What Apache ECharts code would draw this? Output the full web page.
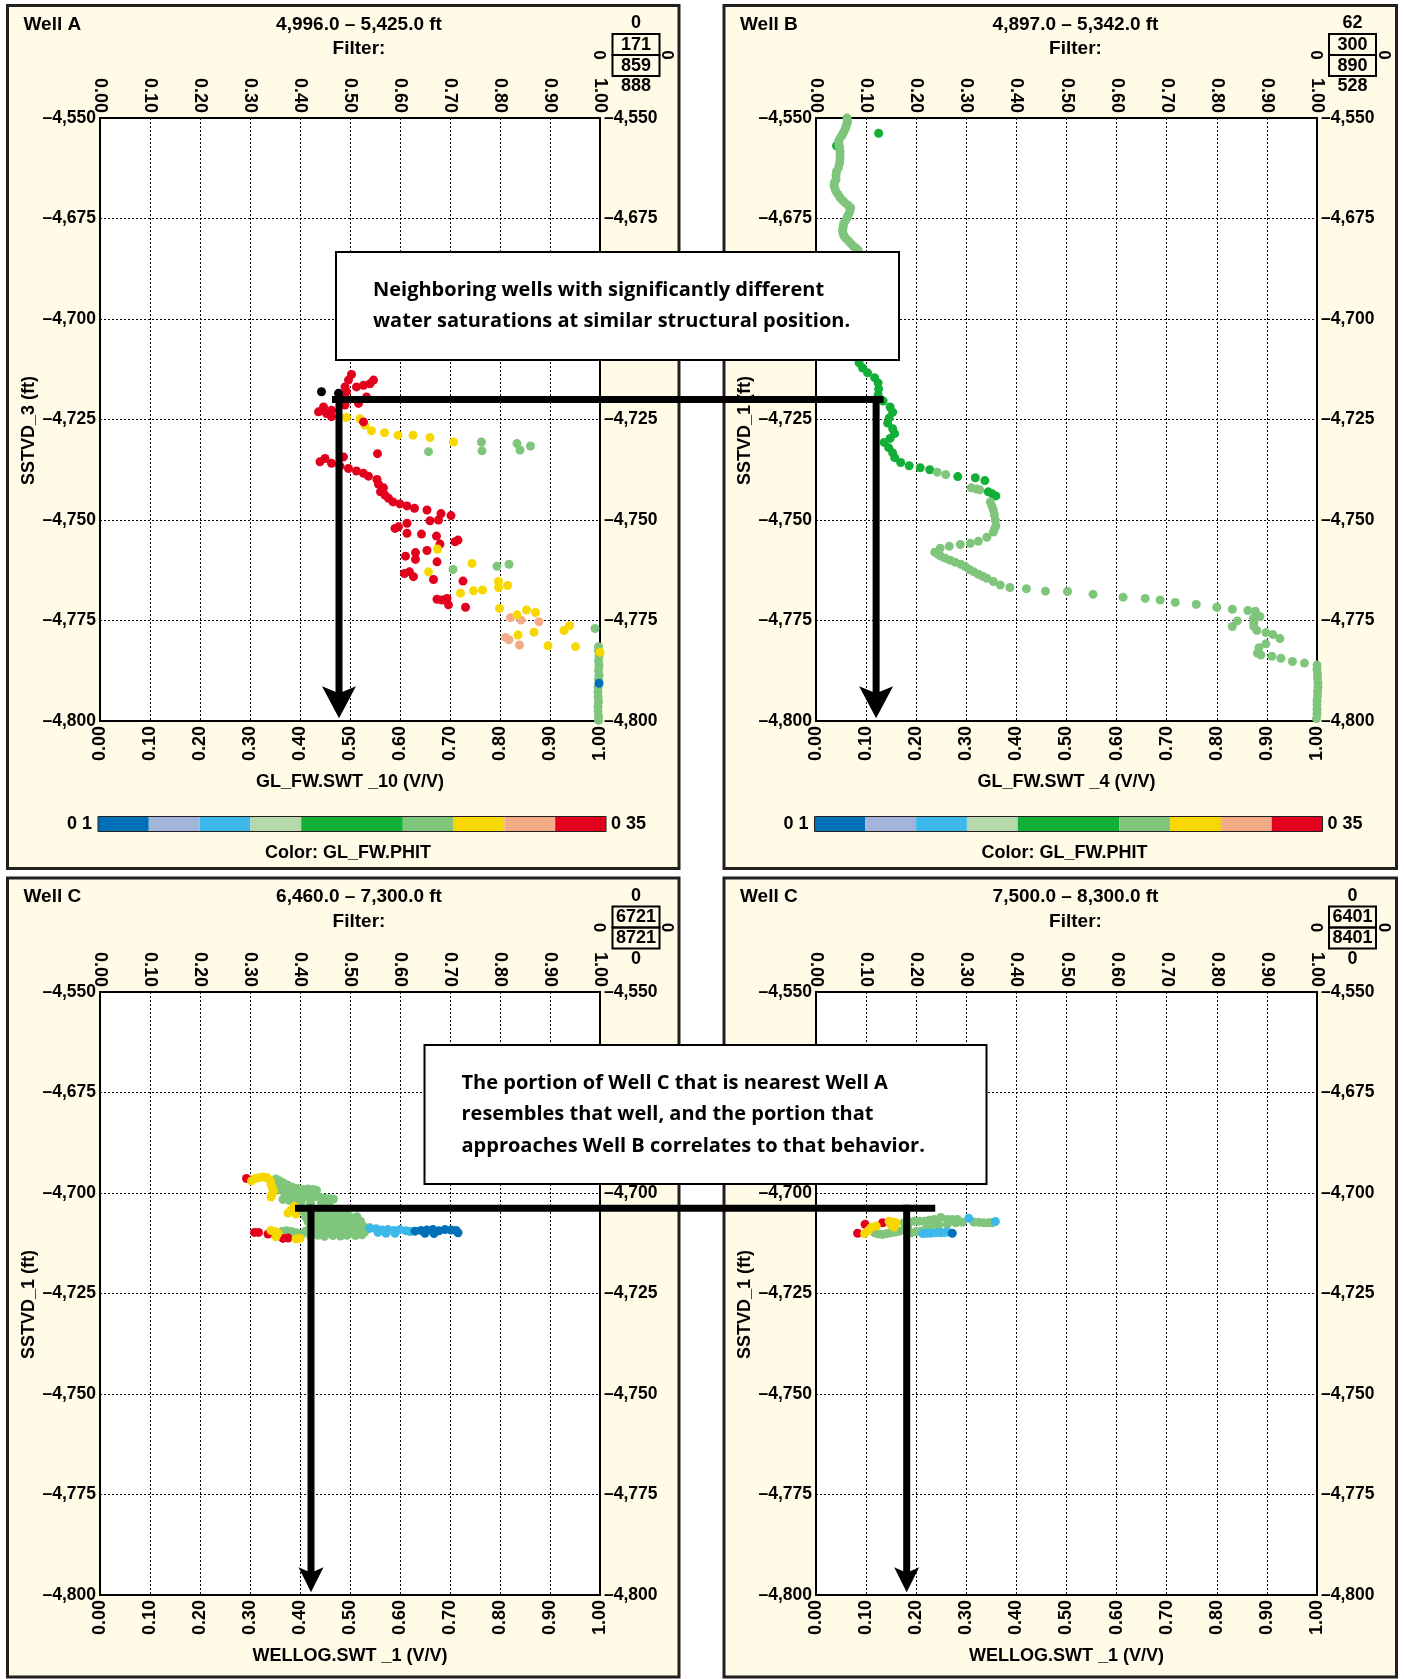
<!DOCTYPE html>
<html>
<head>
<meta charset="utf-8">
<script src="https://cdn.jsdelivr.net/npm/echarts@6/dist/echarts.min.js"></script>
<style>
  html, body { margin: 0; padding: 0; background: #ffffff; }
  #chart { width: 1404px; height: 1679px; }
</style>
</head>
<body>
<div id="chart"></div>
<script>
// ---------------------------------------------------------------
// Axis ranges and tick labels
// ---------------------------------------------------------------
const X_MIN = 0, X_MAX = 1, X_STEP = 0.1;
const Y_MIN = -4800, Y_MAX = -4650, Y_STEP = 25;
// depth tick labels, bottom to top
const Y_TICK_LABELS = ['\u20134,800', '\u20134,775', '\u20134,750', '\u20134,725', '\u20134,700', '\u20134,675', '\u20134,550'];

// Porosity (PHIT) colour classes
const PHIT_EDGES  = [0.10, 0.125, 0.15, 0.175, 0.20, 0.25, 0.275, 0.30, 0.325, 0.35];
const PHIT_COLORS = ['#0071B9', '#A3B4DB', '#3DB8EA', '#B5D8AA', '#13AE36', '#7FC57B', '#F6D800', '#F4AC88', '#E2001D'];
const PHIT_END_LABELS = ['0 1', '0 35'];
const PHIT_TITLE = 'Color: GL_FW.PHIT';

// Panel texts
const PANEL_TITLES = ['Well A', 'Well B', 'Well C', 'Well C'];
const DEPTH_RANGES = ['4,996.0 \u2013 5,425.0 ft', '4,897.0 \u2013 5,342.0 ft', '6,460.0 \u2013 7,300.0 ft', '7,500.0 \u2013 8,300.0 ft'];
const FILTER_VALUES = [['0', '171', '859', '888'], ['62', '300', '890', '528'], ['0', '6721', '8721', '0'], ['0', '6401', '8401', '0']];
const X_NAMES = ['GL_FW.SWT _10 (V/V)', 'GL_FW.SWT _4 (V/V)', 'WELLOG.SWT _1 (V/V)', 'WELLOG.SWT _1 (V/V)'];
const Y_NAMES = ['SSTVD_3 (ft)', 'SSTVD_1 (ft)', 'SSTVD_1 (ft)', 'SSTVD_1 (ft)'];
const NOTES = [
  ['Neighboring wells with significantly different', 'water saturations at similar structural position.'],
  ['The portion of Well C that is nearest Well A', 'resembles that well, and the portion that', 'approaches Well B correlates to that behavior.']
];

// ---------------------------------------------------------------
// Samples: [water saturation, subsea TVD (ft), PHIT]
// ---------------------------------------------------------------
const wellA = [
  [0.997,-4781.5,0.26],[0.997,-4782.6,0.26],[0.998,-4783.8,0.26],[0.997,-4785.0,0.26],[0.998,-4786.2,0.26],
  [0.997,-4787.4,0.26],[0.998,-4788.6,0.26],[0.997,-4789.6,0.26],[0.996,-4791.6,0.26],[0.996,-4792.8,0.26],
  [0.996,-4794.0,0.26],[0.997,-4795.2,0.26],[0.996,-4796.4,0.26],[0.996,-4797.6,0.26],[0.997,-4798.8,0.26],
  [0.997,-4799.8,0.26],[0.998,-4790.6,0.11],[0.990,-4777.0,0.26],[1.000,-4782.9,0.29],
  [0.821,-4774.3,0.31],[0.842,-4774.9,0.31],[0.878,-4775.3,0.31],[0.811,-4779.2,0.31],[0.818,-4779.8,0.31],[0.839,-4781.1,0.31],
  [0.797,-4765.3,0.29],[0.797,-4766.8,0.29],[0.815,-4766.3,0.29],[0.799,-4772.0,0.29],[0.834,-4773.6,0.29],
  [0.853,-4772.4,0.29],[0.871,-4773.0,0.29],[0.868,-4777.9,0.29],[0.836,-4778.6,0.29],[0.896,-4781.3,0.29],
  [0.928,-4777.5,0.29],[0.939,-4776.3,0.29],[0.951,-4781.5,0.29],
  [0.721,-4768.2,0.29],[0.747,-4767.6,0.29],[0.765,-4767.4,0.29],[0.744,-4760.8,0.29],[0.657,-4762.9,0.29],[0.675,-4757.2,0.29],
  [0.706,-4762.3,0.26],[0.794,-4761.5,0.26],[0.818,-4761.0,0.26],
  [0.657,-4733.0,0.26],[0.763,-4730.6,0.26],[0.764,-4732.8,0.26],[0.834,-4731.0,0.26],[0.840,-4732.6,0.26],[0.861,-4731.6,0.26],
  [0.493,-4724.5,0.29],[0.520,-4724.8,0.29],[0.530,-4726.4,0.29],[0.543,-4727.8,0.29],[0.569,-4728.3,0.29],
  [0.596,-4728.9,0.29],[0.626,-4728.9,0.29],[0.660,-4729.5,0.29],[0.707,-4730.6,0.29],
  [0.503,-4713.8,0.34],[0.497,-4715.2,0.34],[0.490,-4716.9,0.34],[0.493,-4718.1,0.34],[0.513,-4716.9,0.34],
  [0.527,-4716.5,0.34],[0.540,-4716.1,0.34],[0.547,-4715.2,0.34],[0.533,-4719.4,0.34],[0.517,-4721.0,0.34],
  [0.490,-4721.4,0.34],[0.483,-4719.6,0.34],[0.447,-4721.9,0.34],[0.437,-4723.1,0.34],[0.453,-4723.5,0.34],
  [0.463,-4722.7,0.34],[0.463,-4724.3,0.34],[0.527,-4725.6,0.34],[0.555,-4733.5,0.34],
  [0.440,-4735.5,0.34],[0.450,-4734.7,0.34],[0.463,-4735.9,0.34],[0.487,-4734.3,0.34],[0.480,-4736.6,0.34],
  [0.497,-4737.2,0.34],[0.513,-4737.8,0.34],[0.527,-4738.4,0.34],[0.537,-4739.1,0.34],[0.554,-4739.9,0.34],
  [0.557,-4741.1,0.34],[0.567,-4742.0,0.34],[0.561,-4743.0,0.34],[0.570,-4743.8,0.34],[0.577,-4744.6,0.34],
  [0.586,-4745.5,0.34],[0.600,-4746.0,0.34],[0.614,-4746.5,0.34],[0.629,-4747.1,0.34],[0.654,-4747.5,0.34],
  [0.682,-4748.4,0.34],[0.702,-4748.9,0.34],[0.677,-4750.0,0.34],[0.660,-4750.2,0.34],[0.614,-4750.8,0.34],
  [0.597,-4751.7,0.34],[0.590,-4752.1,0.34],[0.614,-4753.3,0.34],[0.643,-4753.5,0.34],[0.673,-4754.0,0.34],
  [0.710,-4755.4,0.34],[0.716,-4755.0,0.34],[0.680,-4756.0,0.34],[0.654,-4757.6,0.34],[0.631,-4758.1,0.34],
  [0.611,-4759.0,0.34],[0.631,-4759.8,0.34],[0.674,-4760.4,0.34],[0.609,-4763.3,0.34],[0.619,-4762.9,0.34],
  [0.627,-4764.1,0.34],[0.667,-4764.8,0.34],[0.726,-4765.2,0.34],[0.674,-4769.7,0.34],[0.684,-4769.9,0.34],
  [0.694,-4769.5,0.34],[0.697,-4771.1,0.34],[0.731,-4771.7,0.34],
  [0.675,-4757.2,0.29],[0.443,-4718.1,0.37],[0.477,-4718.5,0.37]
];

const wellB = [
  [0.041,-4656.9,0.22],
  [0.062,-4650.0,0.26],[0.063,-4650.7,0.26],[0.062,-4651.3,0.26],[0.060,-4652.1,0.26],[0.058,-4652.8,0.26],
  [0.055,-4653.6,0.26],[0.052,-4654.3,0.26],[0.048,-4655.0,0.26],[0.045,-4655.8,0.26],[0.046,-4656.6,0.26],
  [0.047,-4657.3,0.26],[0.048,-4658.3,0.26],[0.048,-4659.3,0.26],[0.048,-4660.3,0.26],[0.047,-4661.3,0.26],
  [0.045,-4662.3,0.26],[0.041,-4663.3,0.26],[0.040,-4664.3,0.26],[0.040,-4665.3,0.26],[0.037,-4666.0,0.26],
  [0.036,-4666.8,0.26],[0.038,-4667.6,0.26],[0.040,-4668.3,0.26],[0.044,-4669.0,0.26],[0.048,-4669.8,0.26],
  [0.053,-4670.5,0.26],[0.058,-4671.1,0.26],[0.064,-4671.7,0.26],[0.069,-4672.3,0.26],[0.068,-4672.9,0.26],
  [0.067,-4673.5,0.26],[0.064,-4674.2,0.26],[0.062,-4674.8,0.26],[0.058,-4675.6,0.26],[0.055,-4676.4,0.26],
  [0.054,-4677.2,0.26],[0.053,-4677.9,0.26],[0.054,-4678.7,0.26],[0.056,-4679.4,0.26],[0.060,-4680.0,0.26],
  [0.065,-4680.6,0.26],[0.070,-4681.3,0.26],[0.075,-4681.9,0.26],[0.080,-4682.4,0.26],[0.084,-4682.9,0.26],
  [0.088,-4684.5,0.26],[0.091,-4687.0,0.26],[0.092,-4690.0,0.26],[0.090,-4693.0,0.26],[0.087,-4696.0,0.26],
  [0.085,-4699.0,0.26],[0.083,-4702.0,0.22],[0.082,-4705.0,0.22],[0.082,-4708.0,0.22],
  [0.086,-4710.9,0.22],[0.093,-4712.2,0.22],[0.103,-4713.4,0.22],[0.117,-4714.6,0.22],[0.124,-4715.9,0.22],
  [0.125,-4717.4,0.22],[0.124,-4718.9,0.22],[0.134,-4720.4,0.22],[0.148,-4721.9,0.22],[0.153,-4723.2,0.22],
  [0.146,-4724.6,0.22],[0.143,-4725.9,0.22],[0.153,-4727.3,0.22],[0.157,-4728.5,0.22],[0.148,-4729.7,0.22],
  [0.136,-4730.7,0.22],[0.145,-4732.0,0.22],[0.153,-4733.3,0.22],[0.157,-4734.5,0.22],[0.169,-4735.7,0.22],
  [0.186,-4736.5,0.22],[0.208,-4737.0,0.22],[0.227,-4737.5,0.22],
  [0.242,-4738.1,0.26],[0.259,-4738.7,0.26],[0.283,-4739.2,0.22],[0.318,-4739.5,0.22],[0.337,-4740.2,0.22],
  [0.310,-4742.0,0.26],[0.320,-4742.3,0.26],[0.327,-4742.5,0.26],[0.344,-4743.0,0.22],[0.352,-4743.5,0.22],
  [0.359,-4744.0,0.22],
  [0.348,-4745.5,0.26],[0.351,-4746.5,0.26],[0.354,-4747.5,0.26],[0.356,-4748.7,0.26],[0.358,-4750.0,0.26],
  [0.359,-4751.5,0.26],[0.356,-4752.3,0.26],[0.354,-4753.0,0.26],[0.341,-4754.3,0.26],[0.324,-4755.3,0.26],
  [0.308,-4755.8,0.26],[0.288,-4756.1,0.26],[0.266,-4756.5,0.26],[0.248,-4757.0,0.26],[0.237,-4758.0,0.26],
  [0.243,-4758.5,0.26],[0.249,-4759.0,0.26],[0.258,-4759.5,0.26],[0.268,-4760.0,0.26],[0.278,-4760.5,0.26],
  [0.289,-4761.0,0.26],[0.298,-4761.6,0.26],[0.306,-4762.3,0.26],[0.315,-4762.9,0.26],[0.324,-4763.5,0.26],
  [0.333,-4764.0,0.26],[0.341,-4764.5,0.26],[0.354,-4765.3,0.26],[0.368,-4766.2,0.26],[0.387,-4766.8,0.26],
  [0.420,-4767.1,0.26],[0.458,-4767.7,0.26],[0.502,-4767.8,0.26],[0.553,-4768.5,0.26],[0.613,-4769.2,0.26],
  [0.657,-4769.5,0.26],[0.687,-4769.9,0.26],[0.717,-4770.5,0.26],[0.759,-4771.0,0.26],[0.800,-4771.7,0.26],
  [0.831,-4772.2,0.26],[0.862,-4772.5,0.26],[0.877,-4772.7,0.26],[0.886,-4774.0,0.26],[0.873,-4774.5,0.26],
  [0.874,-4775.5,0.26],[0.874,-4776.5,0.26],[0.841,-4775.1,0.26],[0.831,-4776.5,0.26],[0.880,-4777.5,0.26],
  [0.898,-4778.0,0.26],[0.912,-4778.5,0.26],[0.926,-4779.5,0.26],[0.898,-4780.8,0.26],[0.884,-4781.8,0.26],
  [0.881,-4783.1,0.26],[0.888,-4783.6,0.26],[0.910,-4783.9,0.26],[0.928,-4784.4,0.26],[0.951,-4785.2,0.26],
  [0.975,-4785.6,0.26],[1.000,-4786.1,0.26],[1.000,-4787.2,0.26],[1.001,-4788.3,0.26],[1.001,-4789.4,0.26],
  [1.002,-4790.5,0.26],[1.002,-4791.6,0.26],[1.001,-4792.7,0.26],[1.001,-4793.8,0.26],[1.000,-4794.9,0.26],
  [1.000,-4796.0,0.26],[1.000,-4797.1,0.26],[1.000,-4798.2,0.26],[0.999,-4799.4,0.26],
  [0.125,-4653.8,0.22]
];

const wellC1 = [
  [0.293,-4696.4,0.34],
  [0.352,-4696.5,0.26],[0.360,-4697.0,0.26],[0.368,-4697.6,0.26],[0.376,-4698.1,0.26],[0.385,-4698.6,0.26],
  [0.395,-4698.9,0.26],[0.405,-4699.1,0.26],[0.416,-4699.0,0.26],[0.426,-4699.1,0.26],[0.433,-4699.3,0.26],
  [0.355,-4698.3,0.26],[0.362,-4699.3,0.26],[0.370,-4700.0,0.26],[0.380,-4700.3,0.26],[0.390,-4700.5,0.26],
  [0.400,-4700.7,0.26],[0.410,-4700.9,0.26],[0.420,-4700.7,0.26],[0.430,-4700.9,0.26],[0.440,-4701.1,0.26],
  [0.450,-4701.3,0.26],[0.460,-4701.4,0.26],[0.467,-4701.5,0.26],[0.366,-4701.6,0.26],[0.378,-4701.8,0.26],
  [0.390,-4701.8,0.26],[0.402,-4702.3,0.26],[0.421,-4702.5,0.26],[0.443,-4702.3,0.26],[0.458,-4702.6,0.26],
  [0.303,-4697.0,0.29],[0.310,-4696.4,0.29],[0.318,-4696.2,0.29],[0.326,-4696.0,0.29],[0.334,-4696.2,0.29],
  [0.340,-4696.8,0.29],[0.342,-4697.9,0.29],[0.345,-4698.8,0.29],[0.347,-4699.6,0.29],[0.344,-4700.4,0.29],
  [0.342,-4701.0,0.29],
  [0.389,-4703.3,0.29],[0.383,-4704.1,0.29],[0.376,-4705.0,0.29],[0.392,-4705.3,0.29],
  [0.406,-4704.5,0.26],[0.421,-4704.7,0.26],[0.436,-4704.4,0.26],[0.452,-4704.8,0.26],[0.466,-4704.6,0.26],
  [0.481,-4704.9,0.26],[0.494,-4704.6,0.26],
  [0.411,-4705.9,0.26],[0.426,-4705.7,0.26],[0.441,-4706.0,0.26],[0.454,-4705.8,0.26],[0.471,-4705.9,0.26],
  [0.486,-4705.7,0.26],[0.501,-4706.0,0.26],[0.514,-4705.9,0.26],
  [0.416,-4707.1,0.26],[0.431,-4706.9,0.26],[0.446,-4707.2,0.26],[0.461,-4707.0,0.26],[0.474,-4707.1,0.26],
  [0.491,-4706.9,0.26],[0.506,-4707.2,0.26],[0.521,-4707.0,0.26],
  [0.421,-4708.3,0.26],[0.434,-4708.1,0.26],[0.451,-4708.4,0.26],[0.466,-4708.2,0.26],[0.479,-4708.3,0.26],
  [0.496,-4708.1,0.26],[0.509,-4708.4,0.26],[0.526,-4708.2,0.26],[0.539,-4708.6,0.26],
  [0.411,-4709.5,0.26],[0.426,-4709.3,0.26],[0.441,-4709.6,0.26],[0.456,-4709.4,0.26],[0.469,-4709.5,0.26],
  [0.486,-4709.3,0.26],[0.499,-4709.6,0.26],[0.516,-4709.4,0.26],[0.529,-4709.8,0.26],
  [0.421,-4710.7,0.26],[0.436,-4710.5,0.26],[0.449,-4710.8,0.26],[0.466,-4710.6,0.26],[0.481,-4710.7,0.26],
  [0.494,-4710.5,0.26],[0.511,-4710.6,0.26],[0.524,-4710.4,0.26],
  [0.364,-4709.6,0.26],[0.373,-4709.4,0.26],[0.383,-4709.6,0.26],[0.393,-4709.9,0.26],[0.403,-4710.3,0.26],
  [0.309,-4709.8,0.34],[0.317,-4709.8,0.34],[0.336,-4710.2,0.34],[0.366,-4711.3,0.34],[0.376,-4711.2,0.34],
  [0.342,-4709.3,0.29],[0.350,-4709.6,0.29],[0.356,-4710.0,0.29],[0.352,-4710.9,0.29],[0.400,-4711.3,0.29],[0.392,-4711.4,0.29],
  [0.540,-4708.8,0.16],[0.552,-4708.9,0.16],[0.564,-4709.2,0.16],[0.576,-4709.1,0.16],[0.588,-4709.3,0.16],
  [0.600,-4709.1,0.16],[0.612,-4709.4,0.16],[0.620,-4709.6,0.16],[0.556,-4709.8,0.16],[0.572,-4710.0,0.16],[0.590,-4710.0,0.16],
  [0.630,-4709.5,0.11],[0.642,-4709.3,0.11],[0.654,-4709.2,0.11],[0.666,-4709.1,0.11],[0.678,-4709.4,0.11],
  [0.690,-4709.1,0.11],[0.702,-4709.2,0.11],[0.712,-4709.3,0.11],[0.716,-4709.9,0.11],[0.650,-4710.0,0.11],[0.668,-4710.1,0.11]
];

const wellC2 = [
  [0.083,-4710.0,0.34],[0.098,-4707.8,0.34],[0.133,-4707.4,0.34],
  [0.117,-4709.9,0.26],[0.125,-4710.2,0.26],[0.133,-4710.3,0.26],[0.142,-4710.1,0.26],[0.150,-4709.9,0.26],
  [0.158,-4709.7,0.26],[0.166,-4709.5,0.26],[0.175,-4709.2,0.26],[0.183,-4708.6,0.26],[0.176,-4707.4,0.26],
  [0.186,-4707.2,0.26],[0.196,-4707.0,0.26],[0.206,-4707.0,0.26],[0.216,-4707.0,0.26],[0.226,-4706.8,0.26],
  [0.236,-4706.6,0.26],[0.249,-4706.1,0.26],[0.262,-4706.6,0.26],[0.272,-4706.6,0.26],[0.282,-4706.6,0.26],
  [0.190,-4709.9,0.26],[0.200,-4709.6,0.26],[0.209,-4709.5,0.26],[0.220,-4708.8,0.26],[0.229,-4708.2,0.26],
  [0.245,-4708.0,0.26],[0.262,-4707.8,0.26],[0.279,-4707.4,0.26],[0.292,-4707.3,0.26],[0.315,-4707.2,0.26],
  [0.325,-4707.3,0.26],[0.335,-4707.4,0.26],[0.345,-4707.4,0.26],[0.352,-4707.4,0.26],
  [0.097,-4710.1,0.29],[0.105,-4709.3,0.29],[0.110,-4708.6,0.29],[0.120,-4708.2,0.29],[0.146,-4707.0,0.29],
  [0.153,-4707.2,0.29],[0.160,-4707.4,0.29],[0.156,-4708.5,0.29],[0.150,-4708.0,0.29],
  [0.305,-4706.3,0.16],[0.358,-4707.1,0.16],[0.213,-4710.1,0.16],[0.221,-4710.0,0.16],[0.229,-4710.0,0.16],
  [0.239,-4709.9,0.16],[0.249,-4709.9,0.16],[0.257,-4709.8,0.16],[0.262,-4709.7,0.16],
  [0.272,-4710.0,0.11]
];

const WELLS = [wellA, wellB, wellC1, wellC2];

// Correlation arrows: horizontal link at a depth, then a drop to the base of each plot
const LINKS = [
  { depth: -4720.0, tip: -4799.3, from: { g: 0, x: 0.478, hx: 0.471 }, to: { g: 1, x: 0.120, hx: 0.128 }, head: [34, 32] },
  { depth: -4703.8, tip: -4799.3, from: { g: 2, x: 0.422, hx: 0.397 }, to: { g: 3, x: 0.181, hx: 0.231 }, head: [25, 25] }
];

// ---------------------------------------------------------------
// Layout and style
// ---------------------------------------------------------------
const FONT = "'Liberation Sans', Arial, sans-serif";
const NOTE_FONT = "'Open Sans', 'Noto Sans', sans-serif";
const CREAM = '#FFFBE6';

const PANELS = [
  { x: 7.5, y: 5.5, w: 671.5, h: 863 },
  { x: 724, y: 5.5, w: 672.5, h: 863 },
  { x: 7.5, y: 878, w: 671.5, h: 799 },
  { x: 724, y: 878, w: 672.5, h: 799 }
];
const GRIDS = [
  { left: 100, top: 118, width: 500, height: 603 },
  { left: 816, top: 118, width: 501, height: 603 },
  { left: 100, top: 992, width: 500, height: 603 },
  { left: 816, top: 992, width: 501, height: 603 }
];
const NOTE_BOXES = [
  { x: 336, y: 252, w: 563, h: 108 },
  { x: 424.5, y: 1045, w: 562, h: 139 }
];

function phitColor(v) {
  if (v < PHIT_EDGES[0] || v > PHIT_EDGES[PHIT_EDGES.length - 1]) return '#000000';
  for (let k = 0; k < PHIT_COLORS.length; k++) {
    if (v >= PHIT_EDGES[k] && v < PHIT_EDGES[k + 1]) return PHIT_COLORS[k];
  }
  return PHIT_COLORS[PHIT_COLORS.length - 1];
}

const dotted = { color: '#000', width: 1, type: [2, 2] };
const tickLabel = { fontFamily: FONT, fontWeight: 'bold', fontSize: 18, color: '#000' };
const depthLabel = { fontFamily: FONT, fontWeight: 'bold', fontSize: 17.5, color: '#000' };
const nameStyle = { fontFamily: FONT, fontWeight: 'bold', fontSize: 18, color: '#000' };

const xAxes = [], yAxes = [];
GRIDS.forEach((g, i) => {
  const xBase = {
    gridIndex: i, type: 'value', min: X_MIN, max: X_MAX, interval: X_STEP,
    axisLine: { show: false }, axisTick: { show: false }
  };
  xAxes.push(Object.assign({}, xBase, {
    position: 'bottom', name: X_NAMES[i], nameLocation: 'middle', nameGap: 52, nameTextStyle: nameStyle,
    splitLine: { show: true, lineStyle: dotted },
    axisLabel: Object.assign({ rotate: 90, margin: 5, formatter: v => v.toFixed(2) }, tickLabel)
  }));
  xAxes.push(Object.assign({}, xBase, {
    position: 'top', splitLine: { show: false },
    axisLabel: Object.assign({ rotate: 90, margin: 5, formatter: v => v.toFixed(2) }, tickLabel)
  }));
  const yBase = {
    gridIndex: i, type: 'value', min: Y_MIN, max: Y_MAX, interval: Y_STEP,
    axisLine: { show: false }, axisTick: { show: false }
  };
  const yFmt = v => Y_TICK_LABELS[Math.round((v - Y_MIN) / Y_STEP)];
  yAxes.push(Object.assign({}, yBase, {
    position: 'left', name: Y_NAMES[i], nameLocation: 'middle', nameGap: 62, nameRotate: 90,
    nameTextStyle: Object.assign({ padding: [0, 22, 0, 0] }, nameStyle),
    splitLine: { show: true, lineStyle: dotted },
    axisLabel: Object.assign({ margin: 4, formatter: yFmt }, depthLabel)
  }));
  yAxes.push(Object.assign({}, yBase, {
    position: 'right', splitLine: { show: false },
    axisLabel: Object.assign({ margin: 4, formatter: yFmt }, depthLabel)
  }));
});

const chart = echarts.init(document.getElementById('chart'), null, { renderer: 'canvas', width: 1404, height: 1679 });

chart.setOption({
  animation: false,
  backgroundColor: '#ffffff',
  grid: GRIDS.map(g => Object.assign({
    show: true, backgroundColor: '#ffffff', borderColor: '#000', borderWidth: 2, containLabel: false
  }, g)),
  xAxis: xAxes,
  yAxis: yAxes,
  series: WELLS.map((d, i) => ({
    type: 'scatter', xAxisIndex: 2 * i, yAxisIndex: 2 * i, data: d, clip: false,
    symbol: 'circle', symbolSize: 9, silent: true,
    itemStyle: { color: p => phitColor(p.data[2]), opacity: 1 }
  }))
});

// ---------------------------------------------------------------
// Panel furniture, colour bar, notes and arrows
// ---------------------------------------------------------------
function txt(x, y, text, align, size, extra) {
  return Object.assign({
    type: 'text', x, y, z: 5, silent: true,
    style: {
      text, fill: '#000', font: 'bold ' + size + 'px ' + FONT,
      align, textAlign: align, verticalAlign: 'middle', textVerticalAlign: 'middle'
    }
  }, extra || {});
}

const elements = [];
PANELS.forEach((p, i) => {
  elements.push({
    type: 'rect', z: -1, silent: true,
    shape: { x: p.x, y: p.y, width: p.w, height: p.h },
    style: { fill: CREAM, stroke: '#231F20', lineWidth: 3 }
  });
  elements.push(txt(p.x + 16, p.y + 19, PANEL_TITLES[i], 'left', 19));
  elements.push(txt(p.x + 351.5, p.y + 19, DEPTH_RANGES[i], 'center', 19));
  elements.push(txt(p.x + 351.5, p.y + 43.5, 'Filter:', 'center', 19));
  // filter box
  const f = FILTER_VALUES[i];
  const bx = p.x + 605, bw = 47, by = p.y + 28.5, bh = 21;
  elements.push({ type: 'rect', z: 5, silent: true, shape: { x: bx, y: by, width: bw, height: bh }, style: { fill: 'none', stroke: '#000', lineWidth: 2 } });
  elements.push({ type: 'rect', z: 5, silent: true, shape: { x: bx, y: by + bh, width: bw, height: bh }, style: { fill: 'none', stroke: '#000', lineWidth: 2 } });
  elements.push(txt(bx + bw / 2, p.y + 18, f[0], 'center', 18));
  elements.push(txt(bx + bw / 2, by + bh / 2 + 0.5, f[1], 'center', 18));
  elements.push(txt(bx + bw / 2, by + bh * 1.5 + 0.5, f[2], 'center', 18));
  elements.push(txt(bx + bw / 2, p.y + 81, f[3], 'center', 18));
  elements.push(txt(bx - 11, by + bh, '0', 'center', 17, { rotation: Math.PI / 2 }));
  elements.push(txt(bx + bw + 10, by + bh, '0', 'center', 17, { rotation: Math.PI / 2 }));

  // PHIT colour bar (top panels)
  if (i < 2) {
    const cx = p.x + 90.5, cw = 508, cy = p.y + 811, ch = 15;
    const span = PHIT_EDGES[PHIT_EDGES.length - 1] - PHIT_EDGES[0];
    PHIT_COLORS.forEach((c, k) => {
      const x0 = cx + (PHIT_EDGES[k] - PHIT_EDGES[0]) / span * cw;
      const x1 = cx + (PHIT_EDGES[k + 1] - PHIT_EDGES[0]) / span * cw;
      elements.push({ type: 'rect', z: 5, silent: true, shape: { x: x0, y: cy, width: x1 - x0, height: ch }, style: { fill: c } });
    });
    elements.push({ type: 'rect', z: 6, silent: true, shape: { x: cx, y: cy, width: cw, height: ch }, style: { fill: 'none', stroke: '#231F20', lineWidth: 1 } });
    elements.push(txt(cx - 6, cy + ch / 2, PHIT_END_LABELS[0], 'right', 18));
    elements.push(txt(cx + cw + 5, cy + ch / 2, PHIT_END_LABELS[1], 'left', 18));
    elements.push(txt(p.x + 340.5, p.y + 848, PHIT_TITLE, 'center', 18));
  }
});

NOTE_BOXES.forEach((b, i) => {
  elements.push({
    type: 'rect', z: 50, silent: true,
    shape: { x: b.x, y: b.y, width: b.w, height: b.h },
    style: { fill: '#ffffff', stroke: '#000', lineWidth: 2 }
  });
  elements.push({
    type: 'text', z: 51, silent: true, x: b.x + 37, y: b.y + b.h / 2,
    style: {
      text: NOTES[i].join('\n'), fill: '#000', font: 'bold 20px ' + NOTE_FONT, lineHeight: 31.5,
      align: 'left', textAlign: 'left', verticalAlign: 'middle', textVerticalAlign: 'middle'
    }
  });
});

function toPx(g, x, y) {
  return chart.convertToPixel({ xAxisIndex: 2 * g, yAxisIndex: 2 * g }, [x, y]);
}

LINKS.forEach(l => {
  const lw = 7;
  const hL = toPx(l.from.g, l.from.hx, l.depth);
  const hR = toPx(l.to.g, l.to.hx, l.depth);
  elements.push({
    type: 'line', z: 60, silent: true,
    shape: { x1: hL[0] - lw / 2, y1: hL[1], x2: hR[0] + lw / 2, y2: hR[1] },
    style: { stroke: '#000', lineWidth: lw, lineCap: 'butt' }
  });
  [l.from, l.to].forEach(end => {
    const top = toPx(end.g, end.x, l.depth);
    const tip = toPx(end.g, end.x, l.tip);
    const w = l.head[0], h = l.head[1];
    const notch = tip[1] - h * 0.78;
    elements.push({
      type: 'line', z: 60, silent: true,
      shape: { x1: top[0], y1: top[1] - lw / 2, x2: top[0], y2: notch + 2 },
      style: { stroke: '#000', lineWidth: lw, lineCap: 'butt' }
    });
    elements.push({
      type: 'polygon', z: 61, silent: true,
      shape: { points: [[tip[0], tip[1]], [tip[0] - w / 2, tip[1] - h], [tip[0], notch], [tip[0] + w / 2, tip[1] - h]] },
      style: { fill: '#000' }
    });
  });
});

chart.setOption({ graphic: { elements } });
</script>
</body>
</html>
